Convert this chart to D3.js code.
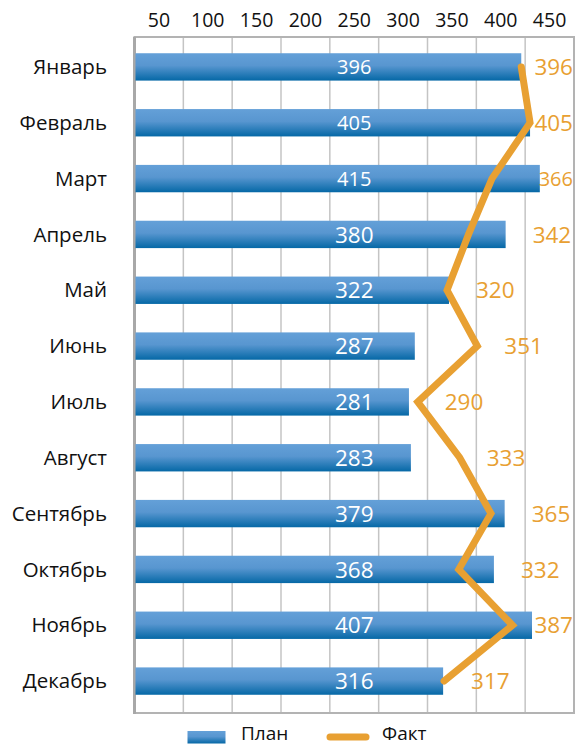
<!DOCTYPE html>
<html>
<head>
<meta charset="utf-8">
<script src="https://cdn.jsdelivr.net/npm/d3@7"></script>
<style>
  body { margin: 0; background: #fff; }
  svg { display: block; font-family: "Open Sans", sans-serif; }
</style>
</head>
<body>
<div id="chart"></div>
<script>
// data
const months = ["Январь", "Февраль", "Март", "Апрель", "Май", "Июнь",
                "Июль", "Август", "Сентябрь", "Октябрь", "Ноябрь", "Декабрь"];
const plan = [396, 405, 415, 380, 322, 287, 281, 283, 379, 368, 407, 316];
const fact = [396, 405, 366, 342, 320, 351, 290, 333, 365, 332, 387, 317];
const tickLabels = [50, 100, 150, 200, 250, 300, 350, 400, 450];
const gridValues = [0, 50, 100, 150, 200, 250, 300, 350, 400, 450];
const seriesNames = ["План", "Факт"];

const W = 579, H = 745;
const orange = "#E8A032";

const svg = d3.select("#chart").append("svg")
    .attr("width", W)
    .attr("height", H);

const defs = svg.append("defs");
const grad = defs.append("linearGradient")
    .attr("id", "barGrad")
    .attr("x1", 0).attr("y1", 0).attr("x2", 0).attr("y2", 1);
grad.append("stop").attr("offset", "0%").attr("stop-color", "#64A0D8");
grad.append("stop").attr("offset", "45%").attr("stop-color", "#5896D0");
grad.append("stop").attr("offset", "100%").attr("stop-color", "#0568A6");

// scales
const x = d3.scaleLinear().domain([0, 450]).range([134.5, 574]);
const y = d3.scaleBand().domain(months).range([39, 709])
    .paddingInner(0.51).paddingOuter(0.255);
const plotTop = y.range()[0] - 2, plotBottom = y.range()[1] + 4;
const yc = m => y(m) + y.bandwidth() / 2;

// grid
svg.append("g").attr("class", "grid")
    .selectAll("line")
    .data(gridValues.slice(1, -1))
    .join("line")
    .attr("x1", d => x(d)).attr("x2", d => x(d))
    .attr("y1", plotTop).attr("y2", plotBottom)
    .attr("stroke", "#C4C4C4")
    .attr("stroke-width", 1.5);

// frame
svg.append("rect")
    .attr("x", x(0)).attr("y", plotTop)
    .attr("width", x(450) - x(0)).attr("height", plotBottom - plotTop)
    .attr("fill", "none")
    .attr("stroke", "#B3B3B3")
    .attr("stroke-width", 2);
svg.append("line")
    .attr("x1", x(0)).attr("x2", x(0))
    .attr("y1", plotTop).attr("y2", plotBottom + 1)
    .attr("stroke", "#A8A8A8")
    .attr("stroke-width", 3);

// top tick labels (sit between grid lines)
const ticks = svg.append("g").attr("class", "axis-x")
    .selectAll("text")
    .data(tickLabels)
    .join("text")
    .attr("y", 27)
    .attr("text-anchor", "middle")
    .attr("font-size", 19.5)
    .attr("fill", "#111")
    .text(d => d);
ticks.each(function (d) {
    const w = this.getComputedTextLength();
    const cx = Math.max(x(d - 25), x(0) + w / 2 + 2);
    d3.select(this).attr("x", cx);
});

// category labels
svg.append("g").attr("class", "axis-y")
    .selectAll("text")
    .data(months)
    .join("text")
    .attr("x", 107)
    .attr("y", d => yc(d))
    .attr("dy", "0.35em")
    .attr("text-anchor", "end")
    .attr("font-size", 20.5)
    .attr("fill", "#111")
    .text(d => d);

// bars
svg.append("g").attr("class", "bars")
    .selectAll("rect")
    .data(plan)
    .join("rect")
    .attr("x", x(0) + 1)
    .attr("y", (d, i) => y(months[i]))
    .attr("width", d => x(d) - x(0) - 1)
    .attr("height", y.bandwidth())
    .attr("fill", "url(#barGrad)");

// plan labels, centred in plot
const midX = (x(0) + x(450)) / 2;
svg.append("g").attr("class", "plan-labels")
    .selectAll("text")
    .data(plan)
    .join("text")
    .attr("x", midX)
    .attr("y", (d, i) => yc(months[i]))
    .attr("dy", "0.36em")
    .attr("text-anchor", "middle")
    .attr("font-size", (d, i) => i < 3 ? 20 : 22.5)
    .attr("fill", "#fff")
    .text(d => d);

// fact line
const line = d3.line()
    .x(d => x(d))
    .y((d, i) => yc(months[i]));
svg.append("path")
    .datum(fact)
    .attr("d", line)
    .attr("fill", "none")
    .attr("stroke", orange)
    .attr("stroke-width", 7)
    .attr("stroke-linejoin", "miter")
    .attr("stroke-linecap", "round");

// fact labels
const factLabels = svg.append("g").attr("class", "fact-labels")
    .selectAll("text")
    .data(fact)
    .join("text")
    .attr("y", (d, i) => yc(months[i]))
    .attr("dy", "0.36em")
    .attr("font-size", (d, i) => i === 2 ? 20 : 22.5)
    .attr("fill", orange)
    .text(d => d);
factLabels.each(function (d, i) {
    const w = this.getComputedTextLength();
    const xs = Math.min(x(Math.max(d, plan[i])) + 27, x(450) - w - 1);
    d3.select(this).attr("x", xs);
});

// legend
const legend = svg.append("g").attr("class", "legend");
legend.append("rect")
    .attr("x", 187.5).attr("y", 731)
    .attr("width", 38).attr("height", 12.5)
    .attr("fill", "url(#barGrad)");
legend.append("text")
    .attr("x", 241).attr("y", 740)
    .attr("font-size", 19).attr("fill", "#111")
    .text(seriesNames[0]);
legend.append("line")
    .attr("x1", 330).attr("x2", 366)
    .attr("y1", 737).attr("y2", 737)
    .attr("stroke", orange)
    .attr("stroke-width", 7)
    .attr("stroke-linecap", "round");
legend.append("text")
    .attr("x", 382).attr("y", 740)
    .attr("font-size", 19).attr("fill", "#111")
    .text(seriesNames[1]);
</script>
</body>
</html>
